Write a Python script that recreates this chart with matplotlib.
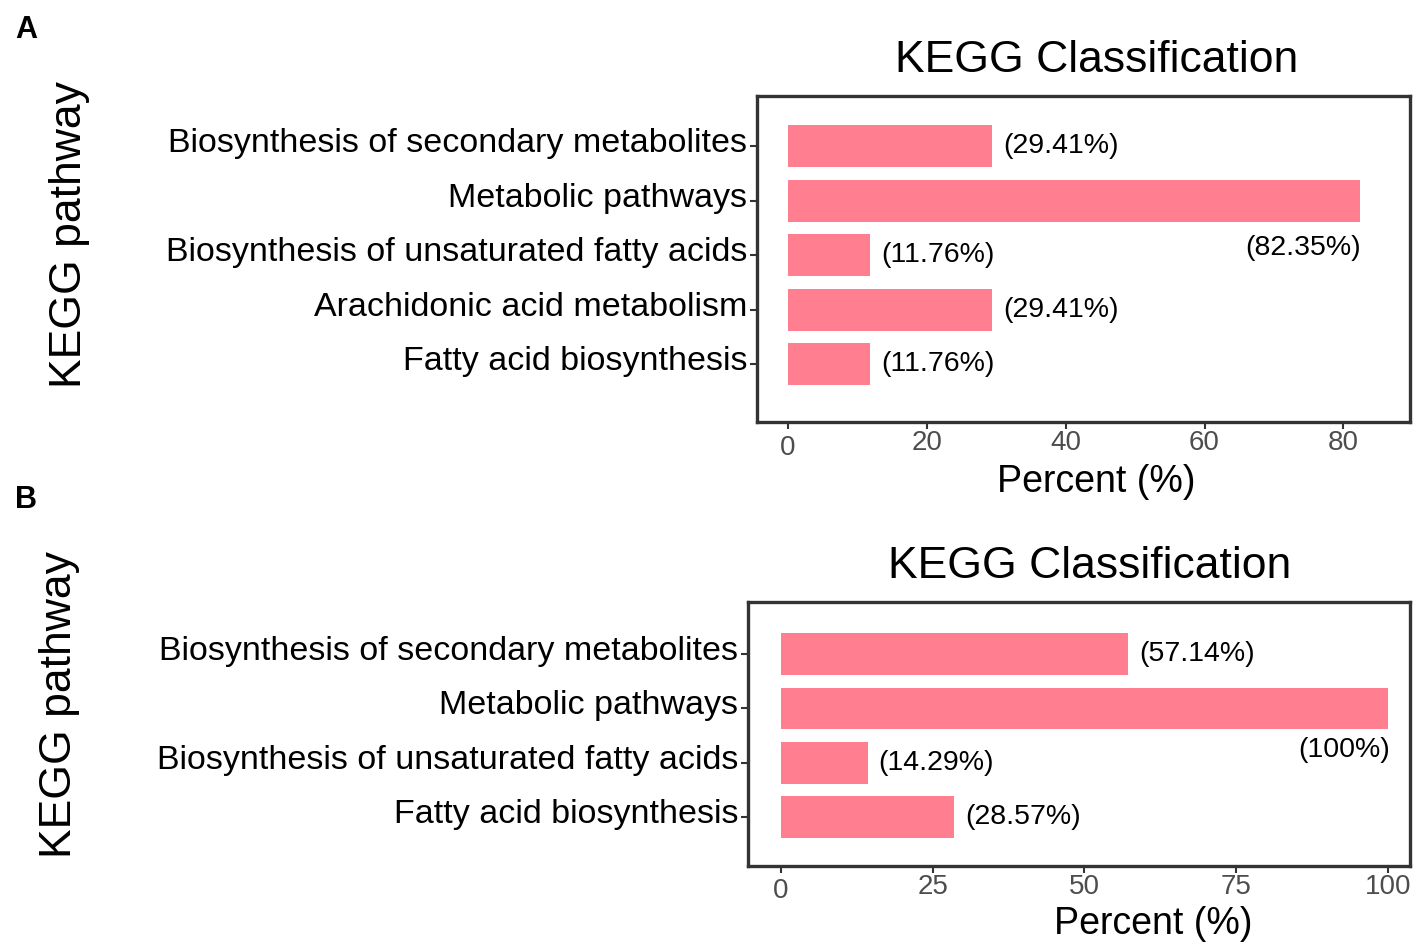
import matplotlib
matplotlib.use("Agg")
import matplotlib.pyplot as plt
from matplotlib.transforms import ScaledTranslation

plt.rcParams['font.family'] = ['Liberation Sans', 'DejaVu Sans']

# Panel A data
cats_a = ["Biosynthesis of secondary metabolites", "Metabolic pathways",
          "Biosynthesis of unsaturated fatty acids", "Arachidonic acid metabolism",
          "Fatty acid biosynthesis"]
vals_a = [29.41, 82.35, 11.76, 29.41, 11.76]
labels_a = ["(29.41%)", "(82.35%)", "(11.76%)", "(29.41%)", "(11.76%)"]
ticks_a = [0, 20, 40, 60, 80]

# Panel B data
cats_b = ["Biosynthesis of secondary metabolites", "Metabolic pathways",
          "Biosynthesis of unsaturated fatty acids", "Fatty acid biosynthesis"]
vals_b = [57.14, 100, 14.29, 28.57]
labels_b = ["(57.14%)", "(100%)", "(14.29%)", "(28.57%)"]
ticks_b = [0, 25, 50, 75, 100]

BAR = "#FF7F91"
FRAME = "#333333"
W, H = 1418, 950

fig = plt.figure(figsize=(W / 100, H / 100), dpi=100)


def box(l, t, r, b):
    return [l / W, 1 - b / H, (r - l) / W, (b - t) / H]


def panel(ax, cats, vals, labels, ticks, xlim, ylim, big_drop, xpad):
    pos = list(range(len(cats)))
    ax.barh(pos, vals, height=0.77, color=BAR, edgecolor="none")
    ax.set_xlim(*xlim)
    ax.set_ylim(*ylim)
    ax.set_yticks(pos)
    ax.set_yticklabels(cats, fontsize=24.5, color="black")
    ax.set_xticks(ticks)
    ax.set_xticklabels([str(t) for t in ticks], fontsize=20, color="#4D4D4D")
    ax.tick_params(axis="both", length=5, width=1.5, color=FRAME, direction="out")
    ax.tick_params(axis="y", pad=2)
    ax.tick_params(axis="x", pad=xpad)
    for s in ax.spines.values():
        s.set_linewidth(2.4)
        s.set_color(FRAME)
    # category labels sit a few pixels above the bar centres
    up = ScaledTranslation(0, 6 / 100, fig.dpi_scale_trans)
    for lab in ax.get_yticklabels():
        lab.set_transform(lab.get_transform() + up)
    imax = vals.index(max(vals))
    for i, (v, lab) in enumerate(zip(vals, labels)):
        if i == imax:
            ax.annotate(lab, (v, i), xytext=(1, -big_drop), textcoords="offset points",
                        ha="right", va="center", fontsize=20.5)
        else:
            ax.annotate(lab, (v, i), xytext=(8, 0), textcoords="offset points",
                        ha="left", va="center", fontsize=20.5)
    # the zero tick label sits a little lower in the original
    zl = ax.get_xticklabels()[0]
    zl.set_y(-0.015)


ax1 = fig.add_axes(box(757, 96, 1410, 422))
panel(ax1, cats_a, vals_a, labels_a, ticks_a, (-4.47, 89.6), (5.06, -0.92), 34, 1)

ax2 = fig.add_axes(box(748, 602, 1410, 866))
panel(ax2, cats_b, vals_b, labels_b, ticks_b, (-5.4, 103.6), (3.9, -0.96), 30, 1)

# titles, axis labels, panel letters
fig.text(1097 / W, 1 - 60 / H, "KEGG Classification", fontsize=32, ha="center", va="center")
fig.text(1090 / W, 1 - 567 / H, "KEGG Classification", fontsize=32, ha="center", va="center")
fig.text(1096 / W, 1 - 482 / H, "Percent (%)", fontsize=27, ha="center", va="center")
fig.text(1153 / W, 1 - 924 / H, "Percent (%)", fontsize=27, ha="center", va="center")
fig.text(70 / W, 1 - 235 / H, "KEGG pathway", fontsize=32, rotation=90, ha="center", va="center")
fig.text(60 / W, 1 - 705 / H, "KEGG pathway", fontsize=32, rotation=90, ha="center", va="center")
fig.text(26 / W, 1 - 30 / H, "A", fontsize=22, fontweight="bold", ha="center", va="center")
fig.text(26 / W, 1 - 500 / H, "B", fontsize=22, fontweight="bold", ha="center", va="center")

fig.savefig("out.png", dpi=100, facecolor="white")
